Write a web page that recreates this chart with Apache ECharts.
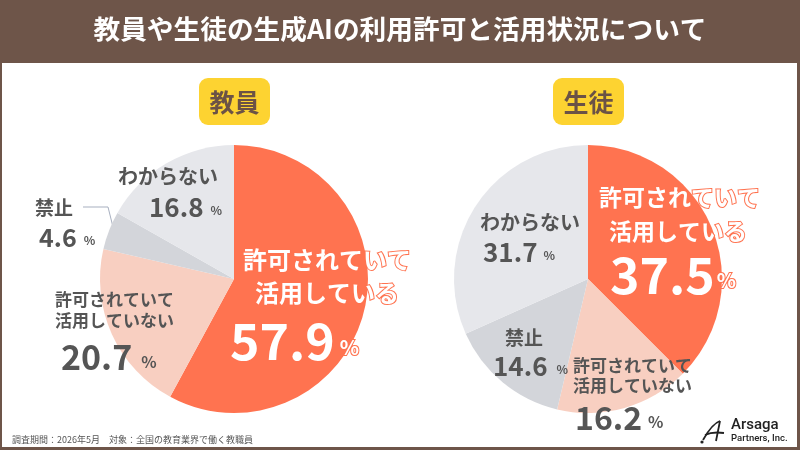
<!DOCTYPE html>
<html><head><meta charset="utf-8">
<script src="https://cdn.jsdelivr.net/npm/echarts@6/dist/echarts.min.js"></script>
<style>html,body{margin:0;padding:0;background:#fff}#c{width:800px;height:450px}</style>
</head><body><div id="c"></div>
<script>
// ---- data ----
const categories = ['許可されていて活用している', '許可されていて活用していない', '禁止', 'わからない'];
const teacherValues = [57.9, 20.7, 4.6, 16.8];
const studentValues = [37.5, 16.2, 14.6, 31.7];
const groupNames = ['教員', '生徒'];
const titleText = '教員や生徒の生成AIの利用許可と活用状況について';
const footText = '調査期間：2026年5月　対象：全国の教育業界で働く教職員';

// ---- styles ----
const FONT = 'Noto Sans CJK JP';
const sliceColors = ['#ff7350', '#f8cfc1', '#d3d5da', '#e6e7eb'];
const RED = '#ff7350', DARK = '#555555', BROWN = '#6e5549';

// label placement specs [series][dataIndex]
const specs = [
  [
    {x:230, y:243.5, ns:24, nlh:33, pads:[13,25], num:50, numLh:62, padNum:0, pct:20, pctPadL:5, pctDrop:14, light:true},
    {x:55, y:289.5, ns:17, nlh:21, pads:[0,0], num:34, numLh:52, padNum:6, pct:16, pctPadL:9, pctDrop:9},
    {x:35, y:196.5, ns:19, nlh:22, pads:[0], num:25, numLh:37, padNum:4, pct:12, pctPadL:7, pctDrop:6},
    {x:118, y:164, ns:20, nlh:24, pads:[0], num:26, numLh:38, padNum:31, pct:12, pctPadL:7, pctDrop:6}
  ],
  [
    {x:599, y:180, ns:23, nlh:34, pads:[0,10], num:50, numLh:53, padNum:11, pct:20, pctPadL:2, pctDrop:11, light:true},
    {x:573, y:356, ns:17, nlh:20, pads:[0,0], num:32, numLh:44, padNum:2, pct:16, pctPadL:6, pctDrop:8},
    {x:493, y:326.5, ns:19, nlh:22, pads:[12], num:26, numLh:35, padNum:0, pct:12, pctPadL:9, pctDrop:6},
    {x:480, y:210, ns:20, nlh:24, pads:[0], num:26, numLh:36, padNum:3, pct:12, pctPadL:6, pctDrop:6}
  ]
];

function splitName(n){ return n.length > 7 ? [n.slice(0,7), n.slice(7)] : [n]; }

function buildData(values, si){
  return categories.map((name, i) => {
    const s = specs[si][i];
    const base = s.light
      ? {color:'#fff', textBorderColor: RED, textBorderWidth: 2}
      : {color: DARK};
    const common = Object.assign({fontFamily: FONT, fontWeight: 'bold'}, base);
    const rich = {};
    splitName(name).forEach((l, k) => {
      rich['n'+k] = Object.assign({}, common, {fontSize: s.ns, lineHeight: s.nlh, padding:[0,0,0,s.pads[k]||0]});
    });
    rich.num = Object.assign({}, common, {fontSize: s.num, lineHeight: s.numLh, padding:[0,0,0,s.padNum]});
    rich.pct = Object.assign({}, common, {fontSize: s.pct, lineHeight: s.pct, padding:[s.pctDrop,0,0,s.pctPadL]});
    return {
      name, value: values[i],
      itemStyle: {color: sliceColors[i]},
      label: {rich}
    };
  });
}

function fmt(p){
  const lines = splitName(p.name).map((l,k) => '{n'+k+'|'+l+'}');
  return lines.join('\n') + '\n{num|' + p.value.toFixed(1) + '}{pct|%}';
}

const centers = [[234, 279], [588, 279]];
const seriesList = [teacherValues, studentValues].map((vals, si) => ({
  type: 'pie',
  name: groupNames[si],
  center: centers[si],
  radius: 134,
  startAngle: 90,
  clockwise: true,
  silent: true,
  animation: false,
  label: {show: true, position: 'inside', formatter: fmt},
  labelLine: {show: false},
  labelLayout: function(p){
    const s = specs[p.seriesIndex][p.dataIndex];
    return {x: s.x, y: s.y, align: 'left', verticalAlign: 'top', hideOverlap: false};
  },
  data: buildData(vals, si)
}));

const badgeX = [199, 553];
const graphics = [
  {type:'rect', z:-10, shape:{x:2, y:63, width:795, height:384}, style:{fill:'#fff'}},
  {type:'text', x:400, y:29, style:{text:titleText, fill:'#fff', font:'bold 26.7px "'+FONT+'"', textAlign:'center', textVerticalAlign:'middle'}},
  {type:'text', x:12, y:440, style:{text:footText, fill:DARK, font:'9px "'+FONT+'"', textAlign:'left', textVerticalAlign:'middle'}},
  {type:'polyline', shape:{points:[[83,207],[108,207],[115,235]]}, style:{stroke:'#a7afbf', lineWidth:1, fill:null}},
  {type:'text', x:731, y:425, style:{text:'Arsaga', fill:'#222', font:'500 15px Roboto', textAlign:'left', textVerticalAlign:'middle'}},
  {type:'text', x:731, y:439, style:{text:'Partners, Inc.', fill:'#222', font:'500 9.5px Roboto', textAlign:'left', textVerticalAlign:'middle'}},
  {type:'bezierCurve', shape:{x1:703, y1:440, cpx1:708, cpy1:431, cpx2:714, cpy2:423, x2:720, y2:421}, style:{stroke:'#222', lineWidth:1.8, fill:null}},
  {type:'line', shape:{x1:720, y1:421, x2:716, y2:441}, style:{stroke:'#222', lineWidth:1.8}},
  {type:'bezierCurve', shape:{x1:705, y1:435, cpx1:711, cpy1:432, cpx2:717, cpy2:432, x2:724, y2:433}, style:{stroke:'#222', lineWidth:1.8, fill:null}},
  {type:'circle', shape:{cx:702, cy:442, r:1.6}, style:{fill:'#222'}}
];
groupNames.forEach((g, i) => {
  graphics.push({type:'rect', shape:{x:badgeX[i], y:78, width:71, height:47, r:9}, style:{fill:'#fdd331'}});
  graphics.push({type:'text', x:badgeX[i]+35.5, y:102, style:{text:g, fill:'#6b5246', font:'bold 25px "'+FONT+'"', textAlign:'center', textVerticalAlign:'middle'}});
});

const chart = echarts.init(document.getElementById('c'), null, {renderer:'canvas'});
chart.setOption({
  backgroundColor: BROWN,
  animation: false,
  graphic: graphics,
  series: seriesList
});
</script>
</body></html>
